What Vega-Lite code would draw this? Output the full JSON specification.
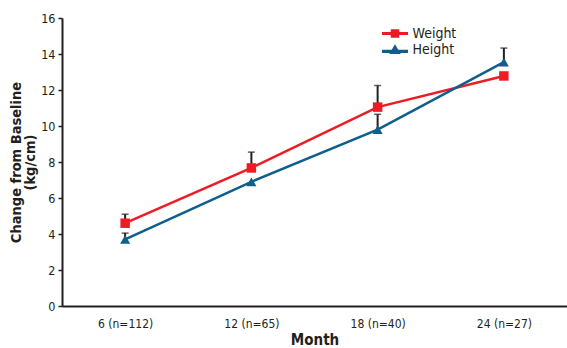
{
  "$schema": "https://vega.github.io/schema/vega-lite/v6.json",
  "width": 505,
  "height": 288,
  "autosize": "none",
  "padding": {"left": 62, "top": 18, "right": 0, "bottom": 42},
  "background": "white",
  "config": {
    "view": {"stroke": null},
    "font": "'DejaVu Sans Condensed', 'Roboto Condensed', Roboto, sans-serif",
    "axisY": {
      "labelOverlap": false,
      "grid": false,
      "domainColor": "#231f20", "domainWidth": 2,
      "tickColor": "#231f20", "tickWidth": 1.5, "tickSize": 4,
      "labelFontSize": 12.5, "labelColor": "#231f20", "labelPadding": 3,
      "titleFontSize": 14.5, "titleFontWeight": "bold", "titleColor": "#231f20", "titlePadding": 3, "titleLineHeight": 14
    }
  },
  "data": {
    "values": [
      {"month": "6 (n=112)", "series": "Weight", "value": 4.6, "upper": 5.1},
      {"month": "12 (n=65)", "series": "Weight", "value": 7.67, "upper": 8.55},
      {"month": "18 (n=40)", "series": "Weight", "value": 11.05, "upper": 12.25},
      {"month": "24 (n=27)", "series": "Weight", "value": 12.78, "upper": null},
      {"month": "6 (n=112)", "series": "Height", "value": 3.7, "upper": 4.05},
      {"month": "12 (n=65)", "series": "Height", "value": 6.9, "upper": null},
      {"month": "18 (n=40)", "series": "Height", "value": 9.8, "upper": 10.65},
      {"month": "24 (n=27)", "series": "Height", "value": 13.55, "upper": 14.33}
    ]
  },
  "encoding": {
    "x": {
      "field": "month", "type": "ordinal", "sort": null,
      "scale": {"type": "point", "padding": 0.5},
      "axis": {
        "title": "Month", "labelAngle": 0, "ticks": false,
        "domainColor": "#231f20", "domainWidth": 2,
        "labelFontSize": 12, "labelColor": "#231f20", "labelPadding": 12,
        "titleFontSize": 15, "titleFontWeight": "bold", "titleColor": "#231f20", "titlePadding": 3
      }
    }
  },
  "layer": [
    {
      "transform": [{"filter": "datum.upper != null"}],
      "mark": {"type": "rule", "color": "#231f20", "strokeWidth": 2},
      "encoding": {
        "y": {
          "field": "value", "type": "quantitative",
          "scale": {"domain": [0, 16]},
          "axis": {"title": ["Change from Baseline", "(kg/cm)"], "values": [0, 2, 4, 6, 8, 10, 12, 14, 16]}
        },
        "y2": {"field": "upper"}
      }
    },
    {
      "transform": [{"filter": "datum.upper != null"}],
      "mark": {"type": "tick", "color": "#231f20", "thickness": 1.5, "size": 7},
      "encoding": {
        "y": {
          "field": "upper", "type": "quantitative",
          "axis": {"title": ["Change from Baseline", "(kg/cm)"], "values": [0, 2, 4, 6, 8, 10, 12, 14, 16]}
        }
      }
    },
    {
      "mark": {"type": "line", "strokeWidth": 2.5},
      "encoding": {
        "y": {
          "field": "value", "type": "quantitative",
          "axis": {"title": ["Change from Baseline", "(kg/cm)"], "values": [0, 2, 4, 6, 8, 10, 12, 14, 16]}
        },
        "color": {
          "field": "series", "type": "nominal",
          "scale": {"domain": ["Weight", "Height"], "range": ["#ed1c24", "#0e5f8c"]},
          "legend": {
            "title": null, "orient": "none", "legendX": 324.5, "legendY": 7, "padding": 0,
            "labelFontSize": 14, "labelColor": "#231f20", "symbolSize": 289, "rowPadding": 0,
            "labelOffset": 9,
            "encode": {
              "symbols": {
                "update": {
                  "shape": {"signal": "datum.value === 'Weight' ? 'M-1.53,-0.18 L1.53,-0.18 L1.53,0.18 L-1.53,0.18 Z M-0.5,-0.5 L0.5,-0.5 L0.5,0.5 L-0.5,0.5 Z' : 'M-1.53,0.04 L1.53,0.04 L1.53,0.4 L-1.53,0.4 Z M0,-0.62 L0.68,0.52 L-0.68,0.52 Z'"},
                  "fill": {"scale": "color", "field": "value"},
                  "strokeWidth": {"value": 0}
                }
              }
            }
          }
        }
      }
    },
    {
      "transform": [{"filter": "datum.series === 'Weight'"}],
      "mark": {"type": "point", "shape": "square", "filled": true, "size": 90, "opacity": 1, "color": "#ed1c24"},
      "encoding": {
        "y": {
          "field": "value", "type": "quantitative",
          "axis": {"title": ["Change from Baseline", "(kg/cm)"], "values": [0, 2, 4, 6, 8, 10, 12, 14, 16]}
        }
      }
    },
    {
      "transform": [{"filter": "datum.series === 'Height'"}],
      "mark": {"type": "point", "shape": "triangle-up", "filled": true, "size": 100, "opacity": 1, "color": "#0e5f8c"},
      "encoding": {
        "y": {
          "field": "value", "type": "quantitative",
          "axis": {"title": ["Change from Baseline", "(kg/cm)"], "values": [0, 2, 4, 6, 8, 10, 12, 14, 16]}
        }
      }
    }
  ]
}
